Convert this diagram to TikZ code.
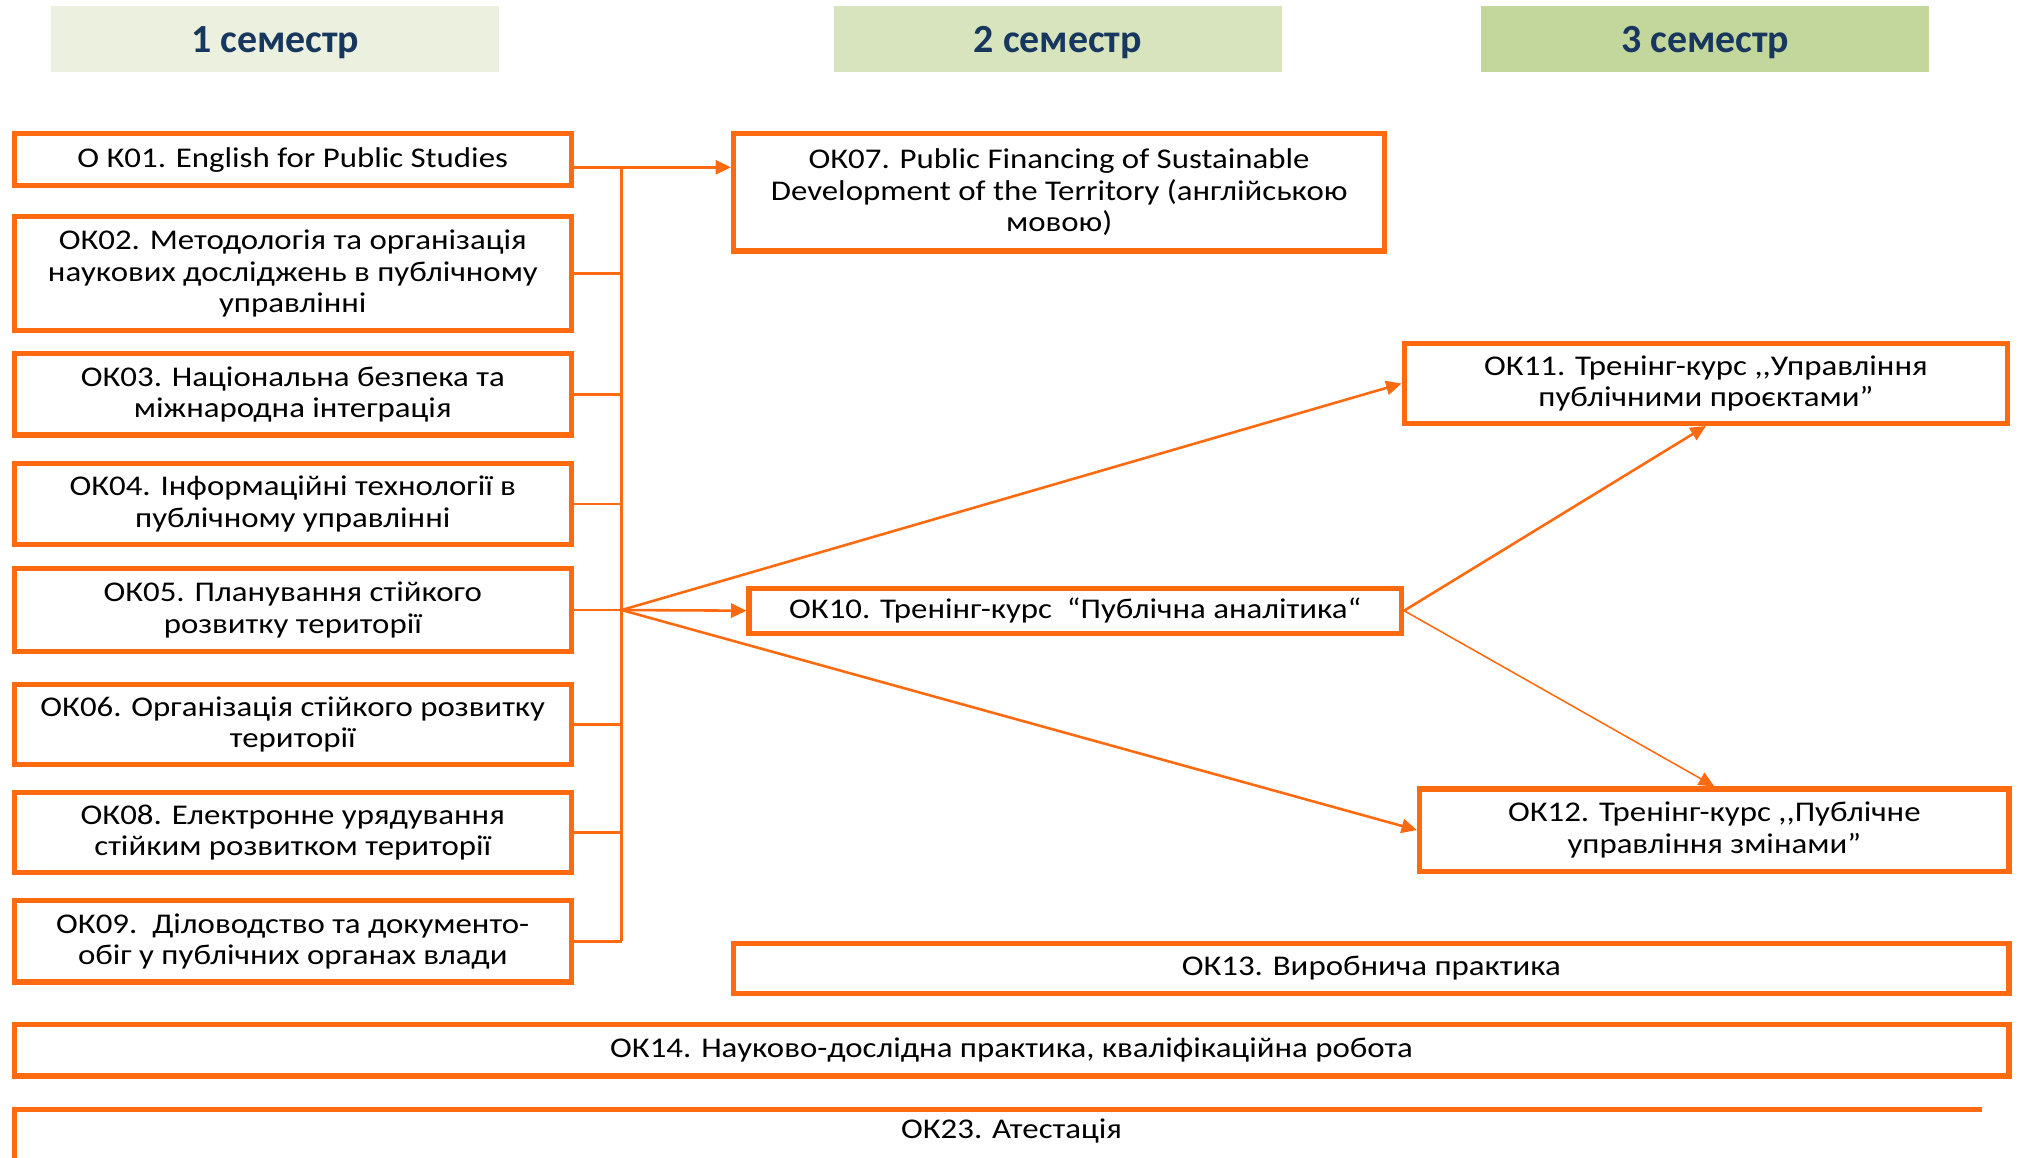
\documentclass[tikz,border=0pt]{standalone}
\usepackage{fontspec}
\setmainfont{Carlito}
\newfontfamily\boxfont[FakeStretch=1.15]{Carlito}
\usetikzlibrary{arrows.meta}
\definecolor{orng}{HTML}{FD6A0F}
\definecolor{hdone}{HTML}{EBF1DE}
\definecolor{hdtwo}{HTML}{D7E4BD}
\definecolor{hdthree}{HTML}{C3D69B}
\definecolor{navy}{HTML}{17375E}
\begin{document}
\begin{tikzpicture}[x=0.5pt,y=-0.5pt,
  txt/.style={font=\boxfont\fontsize{11.1}{12.2}\selectfont},
  box/.style={txt,draw=orng,line width=2pt,fill=white,align=center,inner sep=1pt},
  hdr/.style={fill=#1,minimum width=174pt,minimum height=25.5pt,inner sep=0pt,
    text depth=0pt,text=navy,font=\fontsize{15.5}{17}\selectfont\bfseries},
  conn/.style={draw=orng,line width=1pt},
  arr/.style={conn,-{Triangle[length=6pt,width=5.5pt]}}]
\useasboundingbox (0,0) rectangle (1568,899);
% headers
\node[hdr=hdone]   (h1) at (214,30.5)  {1 семестр};
\node[hdr=hdtwo]   (h2) at (822,30.5)  {2 семестр};
\node[hdr=hdthree] (h3) at (1325,30.5) {3 семестр};
% semester 1 boxes
\node[box,minimum width=216.5pt,minimum height=20pt]   (ok01) at (227.5,124)   {О К01. English for Public Studies};
\node[box,minimum width=216.5pt,minimum height=44.5pt] (ok02) at (227.5,212.5) {ОК02. Методологія та організація\\наукових досліджень в публічному\\управлінні};
\node[box,minimum width=216.5pt,minimum height=31.5pt] (ok03) at (227.5,306.5) {ОК03. Національна безпека та\\міжнародна інтеграція};
\node[box,minimum width=216.5pt,minimum height=31.5pt] (ok04) at (227.5,391.5) {ОК04. Інформаційні технології в\\публічному управлінні};
\node[box,minimum width=216.5pt,minimum height=32pt]   (ok05) at (227.5,474)   {ОК05. Планування стійкого\\розвитку території};
\node[box,minimum width=216.5pt,minimum height=31pt]   (ok06) at (227.5,563)   {ОК06. Організація стійкого розвитку\\території};
\node[box,minimum width=216.5pt,minimum height=31pt]   (ok08) at (227.5,647)   {ОК08. Електронне урядування\\стійким розвитком території};
\node[box,minimum width=216.5pt,minimum height=31.5pt] (ok09) at (227.5,731.5) {ОК09.\ \ Діловодство та документо-\\обіг у публічних органах влади};
% semester 2/3 boxes
\node[box,minimum width=253pt,minimum height=45.5pt] (ok07) at (823,149.5)  {ОК07. Public Financing of Sustainable\\Development of the Territory (англійською\\мовою)};
\node[box,minimum width=253.5pt,minimum height=17.5pt] (ok10) at (835.5,474.5) {ОК10. Тренінг-курс\ \ “Публічна аналітика“};
\node[box,minimum width=234.5pt,minimum height=31pt] (ok11) at (1325.5,298) {ОК11. Тренінг-курс ,,Управління\\публічними проєктами”};
\node[box,minimum width=229pt,minimum height=32pt]   (ok12) at (1332,645)   {ОК12. Тренінг-курс ,,Публічне\\управління змінами”};
\node[box,minimum width=495.5pt,minimum height=19.5pt] (ok13) at (1065.5,752.5) {ОК13. Виробнича практика};
\node[box,minimum width=775pt,minimum height=20pt] (ok14) at (786,816) {ОК14. Науково-дослідна практика, кваліфікаційна робота};
\node[txt] (ok23) at (786,879) {ОК23. Атестація};
\draw[draw=orng,line width=2pt] (11,900) -- (11,862) -- (1540,862);
% bus
\coordinate (bus) at (483,474);
\coordinate (ok01out) at ([yshift=-3pt]ok01.east);
\draw[conn] (bus |- ok01out) -- (bus |- ok09.east);
\foreach \n in {ok02,ok03,ok04,ok05,ok06,ok08,ok09}
  \draw[conn] (\n.east) -- (\n.east -| bus);
\draw[arr] (ok01out) -- (ok01out -| ok07.west);
\draw[arr] (bus) -- (ok10.west);
\draw[arr] (bus) -- (ok11.west);
\draw[arr] (bus) -- (ok12.west);
\draw[arr] (ok10.east) -- (ok11.south);
\draw[arr,line width=0.6pt] (ok10.east) -- (ok12.north);
\end{tikzpicture}
\end{document}
